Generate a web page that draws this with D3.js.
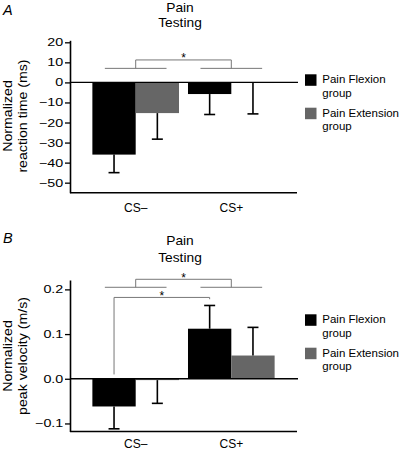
<!DOCTYPE html>
<html><head><meta charset="utf-8">
<script src="https://cdn.jsdelivr.net/npm/d3@7"></script>
<style>body{margin:0;background:#fff}svg{display:block}</style>
</head><body>
<svg id="c" width="400" height="452"></svg>
<script>
// ---------- data ----------
const categories = ["CS\u2013", "CS+"];
const seriesNames = ["flex", "ext"];
const legendLabels = [["Pain Flexion", "group"], ["Pain Extension", "group"]];
const titleLines = ["Pain", "Testing"];

const rtFlexion = [-36, -5.8];
const rtExtension = [-15.3, -0.3];
const rtFlexionErr = [9, 10.2];
const rtExtensionErr = [13, 15.4];
const rtTicks = [20, 10, 0, -10, -20, -30, -40, -50];
const rtAxisLabel = ["Normalized", "reaction time (ms)"];

const pvFlexion = [-0.062, 0.112];
const pvExtension = [-0.003, 0.052];
const pvFlexionErr = [0.05, 0.052];
const pvExtensionErr = [0.052, 0.063];
const pvTicks = [0.2, 0.1, 0.0, -0.1];
const pvAxisLabel = ["Normalized", "peak velocity (m/s)"];

const colors = ["#000000", "#666666"];
const FONT = "'Liberation Sans', Arial, Helvetica, sans-serif";

const svg = d3.select("#c");

function stretchText(g, x, y, txt, size, sx, anchor, rot) {
  return g.append("text")
    .attr("transform", `translate(${x},${y})` + (rot ? ` rotate(${rot})` : "") + ` scale(${sx},1)`)
    .attr("text-anchor", anchor || "start")
    .attr("font-family", FONT).attr("font-size", size)
    .attr("fill", "#000").text(txt);
}

function panel(cfg) {
  const g = svg.append("g");
  const y = d3.scaleLinear().domain(cfg.domain).range(cfg.range);
  const x = d3.scaleBand().domain(categories).range([70, 297])
    .paddingInner(0.094).paddingOuter(0.234);
  const xs = d3.scaleBand().domain(seriesNames).range([0, x.bandwidth()]);

  // letter
  g.append("text").attr("x", 3).attr("y", cfg.letterY)
    .attr("font-family", FONT).attr("font-size", 14.5).attr("font-style", "italic")
    .text(cfg.letter);
  // title
  titleLines.forEach((t, i) => {
    stretchText(g, 180, cfg.titleY[i], t, 13, 1.06, "middle");
  });

  // bars
  const data = [];
  categories.forEach((c, i) => {
    data.push({c, s: "flex", v: cfg.flex[i], e: cfg.flexErr[i], col: colors[0]});
    data.push({c, s: "ext", v: cfg.ext[i], e: cfg.extErr[i], col: colors[1]});
  });
  g.selectAll("rect.bar").data(data).enter().append("rect")
    .attr("x", d => x(d.c) + xs(d.s))
    .attr("width", xs.bandwidth())
    .attr("y", d => y(Math.max(0, d.v)))
    .attr("height", d => Math.abs(y(d.v) - y(0)))
    .attr("fill", d => d.col);

  // error bars (one-sided, away from zero)
  data.forEach(d => {
    const cx = x(d.c) + xs(d.s) + xs.bandwidth() / 2;
    const end = d.v >= 0 ? d.v + d.e : d.v - d.e;
    g.append("line").attr("x1", cx).attr("x2", cx).attr("y1", y(d.v)).attr("y2", y(end))
      .attr("stroke", "#000").attr("stroke-width", 1.6);
    g.append("line").attr("x1", cx - 5.5).attr("x2", cx + 5.5).attr("y1", y(end)).attr("y2", y(end))
      .attr("stroke", "#000").attr("stroke-width", 1.6);
  });

  // zero line
  g.append("line").attr("x1", 70).attr("x2", 298).attr("y1", y(0)).attr("y2", y(0))
    .attr("stroke", "#000").attr("stroke-width", 1.4);
  // bottom axis line
  g.append("line").attr("x1", 70).attr("x2", 297).attr("y1", cfg.range[0]).attr("y2", cfg.range[0])
    .attr("stroke", "#000").attr("stroke-width", 1.6);

  // y axis
  const ax = g.append("g").attr("transform", "translate(70,0)")
    .call(d3.axisLeft(y).tickValues(cfg.ticks).tickSize(5).tickSizeOuter(0).tickPadding(0.2)
      .tickFormat(cfg.fmt));
  ax.select(".domain").attr("stroke", "#000").attr("stroke-width", 1.6);
  ax.selectAll(".tick line").attr("stroke", "#000").attr("stroke-width", 1.3);
  ax.selectAll(".tick text").attr("font-family", FONT).attr("font-size", 11)
    .attr("fill", "#000").attr("transform", "scale(1.3,1)");

  // axis title
  cfg.axisLabel.forEach((t, i) => {
    stretchText(g, [12.3, 26.5][i], cfg.axisLabelY, t, 12, 1.18, "middle", -90);
  });

  // category labels
  categories.forEach(c => {
    stretchText(g, x(c) + x.bandwidth() / 2, cfg.catY, c, 12, 1.0, "middle");
  });

  // significance brackets
  const inset = x.bandwidth() * 0.144;
  const br = g.append("g").attr("stroke", "#777").attr("stroke-width", 1).attr("fill", "none");
  cfg.brackets.forEach(b => {
    const xl = b.x1(x, xs), xr = b.x2(x, xs);
    if (b.under) {
      categories.forEach(c => {
        br.append("line").attr("x1", x(c) + inset).attr("x2", x(c) + x.bandwidth() - inset)
          .attr("y1", y(b.under)).attr("y2", y(b.under));
      });
    }
    br.append("path").attr("d", `M${xl},${y(b.left)}V${y(b.top)}H${xr}V${y(b.right)}`);
    g.append("text").attr("x", (xl + xr) / 2).attr("y", y(b.top) + 2.5)
      .attr("text-anchor", "middle").attr("font-family", FONT).attr("font-size", 12).text("*");
  });

  // legend
  colors.forEach((col, i) => {
    const top = cfg.legendY + i * 33.4;
    g.append("rect").attr("x", 305).attr("y", top).attr("width", 11.5).attr("height", 11.5).attr("fill", col);
    legendLabels[i].forEach((t, j) => {
      g.append("text").attr("x", 322.3).attr("y", top + 9 + j * 13.4)
        .attr("font-family", FONT).attr("font-size", 11.5).text(t);
    });
  });
}

const groupCenter = (x, c) => x(c) + x.bandwidth() / 2;
const barCenter = (x, xs, c, s) => x(c) + xs(s) + xs.bandwidth() / 2;

panel({
  letter: "A", letterY: 15, titleY: [12, 27],
  domain: [-55, 21], range: [192.7, 40.3],
  flex: rtFlexion, ext: rtExtension, flexErr: rtFlexionErr, extErr: rtExtensionErr,
  ticks: rtTicks, fmt: d3.format("d"), axisLabel: rtAxisLabel, axisLabelY: 116, catY: 211.7,
  legendY: 74.3,
  brackets: [
    {under: 7.0, left: 7.0, top: 11.2, right: 7.0,
     x1: x => groupCenter(x, categories[0]), x2: x => groupCenter(x, categories[1])}
  ]
});

panel({
  letter: "B", letterY: 242.7, titleY: [245, 262],
  domain: [-0.118, 0.221], range: [431.5, 280],
  flex: pvFlexion, ext: pvExtension, flexErr: pvFlexionErr, extErr: pvExtensionErr,
  ticks: pvTicks, fmt: d3.format(".1f"), axisLabel: pvAxisLabel, axisLabelY: 356, catY: 448,
  legendY: 314.3,
  brackets: [
    {under: 0.2047, left: 0.2047, top: 0.2226, right: 0.2047,
     x1: x => groupCenter(x, categories[0]), x2: x => groupCenter(x, categories[1])},
    {left: 0.0097, top: 0.182, right: 0.178,
     x1: (x, xs) => barCenter(x, xs, categories[0], "flex"), x2: (x, xs) => barCenter(x, xs, categories[1], "flex")}
  ]
});
</script>
</body></html>
